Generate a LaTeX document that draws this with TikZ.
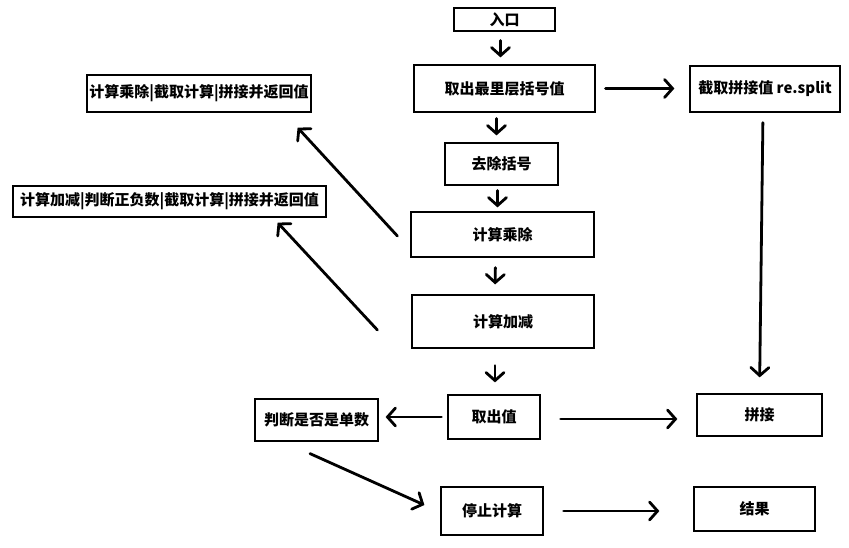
\documentclass[tikz,border=0pt]{standalone}
\usepackage{fontspec}
\setmainfont{Noto Sans CJK SC}
\usetikzlibrary{arrows.meta}
\begin{document}
\begin{tikzpicture}[x=1pt,y=-1pt,
  box/.style={draw=black, line width=1.2pt, inner sep=0pt, align=center,
    font=\bfseries\fontsize{15}{17}\selectfont},
  flow/.style={line width=2.8pt, line cap=round,
    -{Straight Barb[length=8pt,width=18pt,line cap=round]}},
]
\useasboundingbox[fill=white] (0,0) rectangle (849,548);

% main column
\node[box, minimum width=101, minimum height=23] (in)   at (504.5,19.5) {入口};
\node[box, minimum width=181, minimum height=47] (take) at (504.5,88.5) {取出最里层括号值};
\node[box, minimum width=113, minimum height=42] (rm)   at (501.5,164)  {去除括号};
\node[box, minimum width=183, minimum height=45] (mul)  at (502.5,234.5) {计算乘除};
\node[box, minimum width=182, minimum height=53] (add)  at (503,321.5)  {计算加减};
\node[box, minimum width=92,  minimum height=44] (val)  at (494,417)    {取出值};
\node[box, minimum width=102, minimum height=48] (stop) at (492,511)    {停止计算};

% side boxes
\node[box, minimum width=224, minimum height=37] (mulret) at (199,93.5)  {计算乘除|截取计算|拼接并返回值};
\node[box, minimum width=313, minimum height=31] (addret) at (169.5,201.5) {计算加减|判断正负数|截取计算|拼接并返回值};
\node[box, minimum width=150, minimum height=46] (split)  at (765,89)    {截取拼接值 re.split};
\node[box, minimum width=123, minimum height=42] (judge)  at (316.5,420) {判断是否是单数};
\node[box, minimum width=125, minimum height=42] (join)   at (759.5,415) {拼接};
\node[box, minimum width=121, minimum height=44] (result) at (754.5,509) {结果};

% free ends of the slanted connectors
\coordinate (mulS)  at ([shift={(-13,1.5)}]mul.west);
\coordinate (mulE)  at ([shift={(-14,15)}]mulret.south east);
\coordinate (addS)  at ([shift={(-34,8.5)}]add.west);
\coordinate (addE)  at ([shift={(-49,5)}]addret.south east);
\coordinate (judS)  at ([shift={(-6.5,12)}]judge.south);
\coordinate (judE)  at ([shift={(-16,-6)}]stop.west);

% vertical flow
\draw[flow, shorten <=9pt, shorten >=7pt] ([xshift=-4]in.south) -- ([xshift=-4]take.north);
\draw[flow, shorten <=6pt, shorten >=7pt] ([xshift=-8]take.south) -- ([xshift=-5]rm.north);
\draw[flow, shorten <=5pt, shorten >=4pt] ([xshift=-4]rm.south) -- ([xshift=-5]mul.north);
\draw[flow, shorten <=10pt, shorten >=10pt] ([xshift=-7]mul.south) -- ([xshift=-8]add.north);
\draw[flow, shorten <=17pt, shorten >=12pt] ([xshift=-8]add.south) -- ([xshift=1]val.north);

% horizontal flow
\draw[flow, shorten <=10pt, shorten >=15pt] (take.east) -- (take.east -| split.west);
\draw[flow, shorten <=10pt, shorten >=16pt] ([xshift=-2]split.south) -- (join.north);
\draw[flow, shorten <=6pt, shorten >=7pt] (val.west) -- (val.west -| judge.east);
\draw[flow, shorten <=20pt, shorten >=19pt] ([yshift=-2]val.east) -- ([yshift=-2]val.east -| join.west);
\draw[flow, shorten <=20pt, shorten >=34pt] (stop.east) -- (stop.east -| result.west);

% slanted connectors
\draw[flow] (mulS) -- (mulE);
\draw[flow] (addS) -- (addE);
\draw[flow] (judS) -- (judE);
\end{tikzpicture}
\end{document}
